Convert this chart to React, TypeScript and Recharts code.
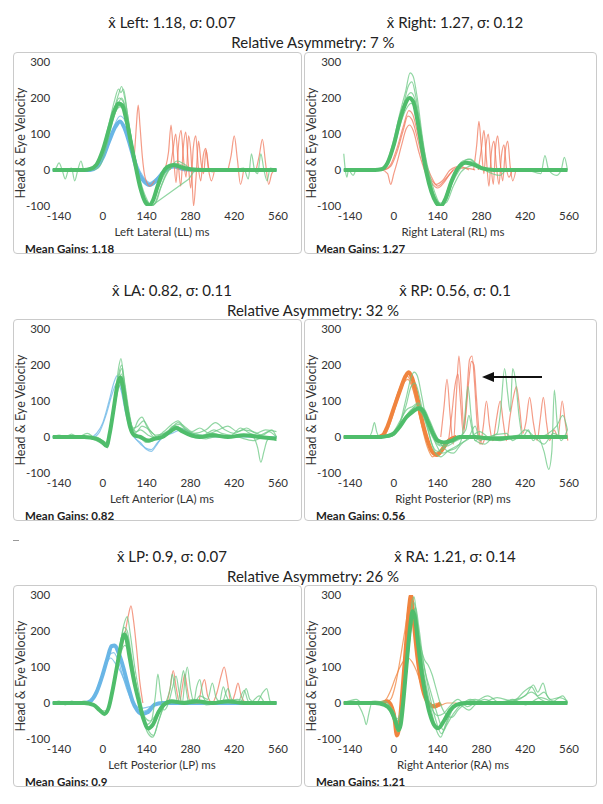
import { LineChart, Line, XAxis, YAxis } from "recharts";

type P = [number, number][];

const xTicks = [-140, 0, 140, 280, 420, 560];
const yTicks = [-100, 0, 100, 200, 300];

// ---- Left Lateral (LL)
const LL_b1: P = [[-160,0],[-40,0],[-20,8],[0,35],[20,80],[40,120],[55,135],[70,115],[90,60],[110,0],[130,-30],[150,-42],[170,-30],[195,-5],[225,10],[260,2],[300,0],[555,0]];
const LL_b2: P = [[-160,0],[-40,0],[-20,5],[0,30],[20,75],[40,130],[55,150],[72,135],[90,80],[110,15],[130,-20],[150,-35],[175,-20],[200,0],[230,8],[270,0],[555,0]];
const LL_r1: P = [[100,30],[107,120],[113,180],[119,120],[126,40],[135,-20],[150,-45],[165,-30]];
const LL_r2: P = [[200,5],[210,50],[218,125],[226,40],[234,-35],[242,70],[250,110],[258,30],[266,-20],[274,95],[282,40],[290,-100],[298,-20],[306,80],[314,20],[322,-10],[330,55],[340,0],[350,-5],[360,0]];
const LL_r3: P = [[215,0],[225,60],[233,100],[241,20],[249,-45],[257,60],[265,105],[273,20],[281,-50],[289,60],[297,95],[305,10],[313,-30],[321,40],[329,60],[337,5],[347,-30],[357,0]];
const LL_r4: P = [[400,0],[410,40],[420,95],[430,30],[440,-40],[450,0]];
const LL_r5: P = [[490,0],[500,40],[510,85],[520,20],[530,-40],[540,-10],[550,0]];
const LL_g0: P = [[-160,0],[-100,0],[-60,0],[-40,3],[-20,15],[0,55],[20,115],[35,160],[50,185],[62,180],[75,140],[90,75],[105,10],[120,-50],[135,-88],[148,-98],[160,-85],[175,-45],[190,-10],[205,8],[225,14],[250,8],[280,2],[320,0],[555,0]];
const LL_g1: P = [[-160,0],[-40,0],[-20,12],[0,60],[20,130],[38,195],[50,225],[58,215],[66,225],[78,160],[92,80],[108,0],[122,-60],[138,-95],[150,-100],[162,-80],[180,-35],[200,0],[220,15],[250,5],[300,0],[555,0]];
const LL_g2: P = [[-160,0],[-30,0],[-10,10],[10,60],[30,130],[48,180],[60,200],[72,175],[88,100],[104,30],[120,-30],[140,-80],[155,-100],[170,-90],[185,-50],[205,-10],[230,12],[260,5],[300,0],[555,0]];
const LL_g3: P = [[-160,0],[-40,0],[-20,10],[0,50],[20,110],[40,165],[55,180],[68,165],[85,95],[100,30],[118,-35],[135,-80],[155,-100],[275,-25],[290,-5],[310,0],[555,0]];
const LL_g4: P = [[-160,0],[-150,5],[-140,20],[-130,0],[-120,-25],[-110,0],[-100,5],[-90,-30],[-80,0],[-70,25],[-60,0],[-40,0],[-20,10],[0,45],[20,105],[40,160],[55,175],[70,160],[88,90],[104,20],[120,-40],[138,-85],[150,-95],[165,-75],[185,-25],[205,5],[230,15],[260,2],[300,0],[555,0]];
const LL_g5: P = [[-160,0],[-40,0],[-20,14],[0,58],[20,120],[38,170],[52,200],[65,190],[80,130],[96,55],[112,-10],[128,-65],[144,-95],[158,-92],[175,-55],[195,-15],[215,10],[240,18],[270,5],[300,0],[420,0],[450,5],[465,-25],[475,45],[485,0],[495,-10],[505,45],[515,0],[525,-30],[535,5],[555,0]];
const LL_g6: P = [[-160,0],[-50,0],[-25,8],[-5,40],[15,100],[35,165],[50,210],[60,232],[70,200],[85,120],[100,40],[116,-25],[132,-75],[148,-100],[164,-95],[182,-55],[200,-15],[218,10],[238,25],[262,15],[290,0],[555,0]];

// ---- Right Lateral (RL)
const RL_o1: P = [[-160,0],[-40,0],[-20,-10],[-10,-40],[0,-10],[10,20],[25,70],[40,115],[50,125],[62,110],[80,50],[100,-5],[120,-35],[140,-50],[160,-35],[180,-10],[200,5],[230,5],[260,0]];
const RL_o2: P = [[-30,0],[-10,10],[10,50],[30,110],[45,150],[58,140],[75,90],[95,20],[115,-20],[135,-40],[155,-30],[180,0],[210,10],[240,0]];
const RL_o3: P = [[-30,0],[-10,15],[10,60],[30,120],[48,165],[60,155],[78,95],[98,30],[118,-15],[140,-45],[165,-25],[190,0]];
const RL_r1: P = [[255,0],[265,70],[272,135],[280,60],[288,-10],[295,70],[302,100],[310,20],[318,-40],[325,60],[332,95],[340,20],[348,-30],[356,50],[364,80],[372,10],[380,-30],[390,0]];
const RL_r2: P = [[270,0],[280,60],[288,110],[296,30],[304,-45],[312,50],[320,80],[328,10],[336,-40],[344,40],[352,70],[360,5],[368,-20],[378,0]];
const RL_g0: P = [[-160,0],[-60,0],[-40,2],[-20,20],[0,70],[20,140],[35,180],[50,200],[62,190],[75,140],[90,60],[105,-10],[120,-60],[135,-90],[150,-100],[165,-80],[185,-30],[205,5],[230,20],[255,15],[280,5],[320,0],[555,0]];
const RL_g1: P = [[-160,0],[-40,0],[-20,25],[0,85],[20,160],[38,220],[52,270],[62,260],[75,200],[90,100],[106,10],[122,-60],[140,-100],[155,-95],[172,-55],[195,-5],[220,25],[245,30],[270,10],[300,0],[555,0]];
const RL_g2: P = [[-160,45],[-155,0],[-150,-20],[-145,0],[-130,-15],[-120,0],[-60,0],[-30,10],[-10,45],[10,110],[30,175],[45,230],[58,245],[70,205],[85,120],[100,30],[118,-40],[135,-85],[152,-100],[168,-80],[190,-25],[215,15],[240,30],[265,15],[300,0],[555,0]];
const RL_g3: P = [[-160,0],[-40,0],[-20,15],[0,60],[20,125],[40,170],[55,185],[68,170],[82,115],[98,40],[115,-25],[130,-70],[148,-92],[165,-85],[185,-40],[210,0],[235,25],[260,20],[290,5],[330,0],[420,0],[470,-10],[483,40],[495,0],[520,-15],[535,0],[545,35],[555,0]];
const RL_g4: P = [[-160,0],[-40,0],[-20,20],[0,75],[20,150],[40,200],[55,215],[68,195],[82,130],[98,50],[115,-15],[132,-65],[150,-95],[168,-90],[190,-45],[215,-5],[240,10],[265,15],[290,0],[340,-15],[360,0],[555,0]];

// ---- Left Anterior (LA)
const LA_b1: P = [[-160,0],[-40,0],[-20,10],[0,40],[20,100],[35,150],[45,170],[55,150],[70,90],[85,30],[100,0],[120,-15],[140,-35],[155,-40],[170,-25],[190,0],[220,10],[250,20],[270,15],[300,5],[555,0]];
const LA_b2: P = [[-160,0],[-30,0],[-10,15],[10,60],[30,120],[45,150],[58,130],[72,70],[90,15],[110,-10],[135,-30],[155,-35],[175,-15],[200,5],[240,25],[265,20],[300,0],[555,0]];
const LA_g0: P = [[-160,0],[-60,0],[-20,-5],[0,-15],[12,-25],[22,10],[35,80],[48,150],[56,165],[64,140],[75,80],[88,25],[100,5],[120,0],[145,-10],[165,-5],[190,0],[215,15],[235,25],[255,15],[280,5],[310,0],[350,5],[400,0],[450,5],[500,0],[555,-5]];
const LA_g1: P = [[-160,0],[-60,0],[-20,-5],[5,-20],[15,-30],[25,20],[40,120],[52,200],[58,218],[66,170],[78,90],[92,30],[108,15],[125,30],[140,25],[160,10],[180,-5],[205,10],[225,30],[245,35],[265,20],[290,10],[320,5],[355,20],[380,10],[410,5],[440,25],[470,10],[500,5],[530,15],[555,0]];
const LA_g2: P = [[-160,0],[-140,5],[-120,0],[-100,8],[-80,0],[-50,10],[-30,0],[0,-20],[12,-25],[25,30],[40,110],[52,170],[60,190],[70,140],[82,70],[96,25],[112,30],[130,45],[150,20],[170,5],[195,10],[220,25],[240,40],[260,30],[285,15],[310,25],[340,10],[370,20],[400,30],[430,15],[460,25],[490,10],[520,20],[555,15]];
const LA_g3: P = [[-160,0],[-60,0],[-10,-15],[10,-25],[25,15],[40,100],[52,160],[60,175],[70,130],[84,60],[100,10],[120,20],[145,5],[175,-5],[200,5],[225,30],[250,25],[280,10],[310,0],[350,10],[400,0],[450,5],[480,0],[495,-30],[505,-70],[515,-40],[525,-10],[540,0],[555,-5]];
const LA_g4: P = [[-160,0],[-60,0],[-10,-10],[10,-20],[25,20],[40,95],[52,140],[62,150],[72,110],[86,50],[100,15],[118,0],[140,-15],[160,-10],[185,5],[210,15],[232,30],[255,20],[285,0],[330,-5],[380,5],[430,0],[480,-10],[520,0],[555,-10]];
const LA_g5: P = [[-160,0],[-100,0],[-20,0],[10,-15],[25,25],[40,110],[52,180],[60,200],[70,150],[84,70],[98,20],[112,45],[125,55],[140,30],[165,0],[195,15],[220,35],[240,45],[262,25],[290,10],[330,20],[360,40],[390,20],[420,10],[450,20],[480,15],[510,5],[540,20],[555,0]];

// ---- Right Posterior (RP)
const RP_o1: P = [[-160,0],[-50,0],[-35,5],[-20,30],[0,80],[20,130],[38,170],[48,180],[58,165],[75,110],[92,40],[108,-10],[122,-40],[138,-50],[155,-35],[175,-10],[200,0]];
const RP_o2: P = [[-40,0],[-25,10],[-5,55],[15,110],[32,150],[45,160],[58,140],[75,85],[92,25],[110,-20],[128,-45],[145,-40],[165,-15],[190,0]];
const RP_o3: P = [[-45,0],[-28,15],[-10,60],[10,115],[28,155],[40,170],[52,160],[70,105],[88,35],[106,-25],[124,-55],[142,-45],[165,-20],[190,0]];
const RP_r1: P = [[150,0],[160,80],[170,160],[180,60],[190,-20],[200,120],[208,225],[216,130],[224,20],[232,100],[242,215],[250,225],[258,150],[266,40],[276,-20],[286,30],[296,100],[306,30],[316,-10],[325,0]];
const RP_r2: P = [[175,-10],[185,60],[195,140],[205,175],[213,100],[222,10],[232,80],[240,160],[248,210],[256,200],[264,110],[272,20],[282,-20],[292,0]];
const RP_r3: P = [[320,0],[330,60],[340,100],[350,40],[360,-10],[372,60],[382,110],[392,140],[402,80],[412,10],[422,40],[434,110],[446,40],[458,-10],[468,50],[478,110],[488,40],[498,-10],[512,20],[525,0],[538,100],[548,40],[556,-10]];
const RP_g0: P = [[-160,0],[-40,0],[-20,3],[0,10],[20,30],[40,55],[60,70],[80,80],[95,70],[110,40],[125,10],[140,-10],[160,-15],[185,-10],[210,0],[260,0],[320,-5],[400,0],[555,0]];
const RP_g1: P = [[-160,0],[-80,0],[-70,15],[-62,40],[-55,15],[-45,0],[-20,0],[0,15],[20,45],[40,75],[60,85],[78,95],[92,75],[108,40],[125,5],[145,-20],[170,-25],[200,-10],[240,0],[555,0]];
const RP_g2: P = [[-160,0],[-20,0],[0,5],[20,40],[40,110],[55,165],[65,180],[75,170],[90,110],[105,40],[120,-15],[140,-40],[160,-30],[185,-10],[210,0],[230,20],[240,60],[250,20],[260,-10],[280,0],[555,0]];
const RP_g3: P = [[-160,0],[-30,0],[0,10],[20,40],[40,90],[55,140],[68,150],[80,120],[95,60],[112,10],[130,-40],[150,-55],[172,-40],[200,-30],[215,-10],[226,50],[237,140],[248,50],[260,-10],[290,-20],[320,0],[555,0]];
const RP_g4: P = [[-160,0],[-20,0],[0,8],[25,40],[50,70],[70,80],[90,65],[110,25],[130,-10],[150,-25],[180,-15],[220,0],[300,0],[330,10],[342,80],[354,190],[364,120],[372,70],[380,190],[390,150],[400,60],[412,0],[430,20],[445,-10],[460,0],[480,-40],[495,-90],[505,-40],[513,130],[522,40],[535,-10],[555,20]];
const RP_g5: P = [[-160,0],[-20,0],[0,5],[25,35],[50,65],[75,90],[95,75],[115,30],[135,-20],[155,-45],[180,-35],[210,-20],[240,0],[260,30],[275,-10],[300,0],[360,10],[380,-10],[420,20],[450,0],[480,-20],[510,10],[540,0],[555,0]];
const RP_g6: P = [[-160,0],[-20,0],[5,10],[30,45],[55,75],[75,85],[95,80],[115,45],[135,5],[160,-30],[190,-45],[215,-20],[240,-5],[275,15],[300,0],[340,-10],[400,5],[460,0],[520,30],[540,60],[555,20]];

// ---- Left Posterior (LP)
const LP_b1: P = [[-160,0],[-60,0],[-40,5],[-20,30],[0,80],[15,125],[28,158],[38,160],[50,140],[65,100],[80,50],[95,5],[110,-20],[125,-30],[145,-25],[165,-5],[190,0],[555,0]];
const LP_b2: P = [[-50,0],[-30,15],[-10,60],[8,105],[22,135],[35,140],[48,120],[62,80],[78,35],[95,0],[115,-25],[140,-20],[165,0]];
const LP_b3: P = [[-45,0],[-25,20],[-5,70],[12,110],[25,125],[40,110],[55,90],[70,60],[85,25],[100,0],[120,-15],[150,-10],[180,0]];
const LP_r1: P = [[60,150],[72,200],[82,245],[90,270],[98,230],[108,150],[118,60],[128,0]];
const LP_r2: P = [[205,0],[215,40],[225,90],[235,40],[245,0],[255,50],[262,80],[270,40],[280,0],[305,0],[315,40],[325,65],[335,20],[350,0],[365,30],[378,75],[388,100],[398,60],[410,0],[422,25],[432,55],[442,20],[455,0]];
const LP_g0: P = [[-160,0],[-60,0],[-30,-5],[-10,-20],[5,-30],[18,-15],[30,30],[45,100],[58,160],[68,190],[75,180],[85,130],[100,60],[115,5],[130,-45],[145,-70],[160,-60],[178,-25],[195,-5],[220,5],[260,0],[300,5],[350,0],[400,5],[450,0],[555,0]];
const LP_g1: P = [[-160,0],[-60,0],[-20,-10],[0,-25],[12,-30],[25,0],[40,80],[55,160],[68,220],[78,240],[88,190],[102,100],[118,20],[132,-40],[148,-80],[162,-90],[178,-50],[195,-10],[215,5],[555,0]];
const LP_g2: P = [[-160,0],[-140,5],[-120,-5],[-100,5],[-80,0],[-60,5],[-30,-5],[-10,-20],[5,-35],[20,-10],[35,50],[50,120],[62,170],[72,200],[82,170],[96,90],[110,20],[125,-30],[140,-60],[155,-50],[168,20],[176,80],[184,30],[195,-20],[210,0],[222,40],[234,75],[244,30],[254,0],[262,60],[270,100],[280,40],[292,0],[310,20],[335,10],[350,55],[362,15],[380,0],[400,40],[412,10],[430,0],[452,35],[465,5],[490,0],[512,30],[524,40],[535,5],[555,0]];
const LP_g3: P = [[-160,0],[-60,0],[-25,-10],[-5,-25],[10,-30],[25,5],[40,70],[55,140],[65,175],[75,185],[86,150],[100,80],[115,10],[130,-50],[145,-85],[160,-95],[175,-60],[190,-20],[205,10],[215,40],[222,80],[230,40],[240,0],[250,55],[258,90],[266,40],[275,0],[290,0],[300,45],[310,65],[320,20],[335,0],[372,0],[385,45],[395,20],[410,0],[440,0],[458,40],[470,10],[490,0],[555,0]];
const LP_g4: P = [[-160,0],[-50,0],[-20,-10],[0,-22],[15,-20],[30,20],[45,90],[58,140],[70,160],[80,150],[92,100],[106,40],[120,-10],[135,-40],[150,-50],[168,-35],[185,-10],[210,5],[240,0],[290,10],[330,-5],[380,0],[430,10],[470,0],[500,20],[520,0],[555,0]];
const LP_g5: P = [[-160,0],[-60,0],[-20,-10],[3,-30],[18,-15],[32,40],[46,110],[58,175],[68,210],[78,200],[90,140],[104,60],[118,0],[132,-55],[148,-75],[165,-45],[180,-20],[195,0],[555,0]];

// ---- Right Anterior (RA)
const RA_o1: P = [[-160,0],[-40,0],[-20,5],[0,-30],[10,-90],[18,-60],[28,40],[38,150],[48,260],[55,300],[62,240],[75,130],[92,40],[110,0],[130,-10],[150,0]];
const RA_o2: P = [[-40,0],[-25,10],[-10,35],[5,70],[20,100],[35,120],[45,125],[58,115],[72,90],[88,50],[104,15],[120,-5],[140,0]];
const RA_o3: P = [[-30,0],[-10,10],[5,50],[20,120],[35,200],[48,270],[56,285],[64,230],[78,130],[95,40],[112,0],[140,-10],[170,0],[200,0]];
const RA_g0: P = [[-160,0],[-60,0],[-30,-5],[-10,-20],[5,-50],[15,-75],[22,-60],[32,20],[42,120],[52,210],[60,255],[68,235],[78,160],[90,80],[102,20],[115,-30],[128,-60],[142,-70],[160,-50],[180,-20],[200,-5],[230,0],[300,0],[400,0],[555,0]];
const RA_g1: P = [[-160,0],[-130,5],[-110,-10],[-95,-40],[-88,-60],[-80,-30],[-70,0],[-40,0],[-20,-10],[0,-40],[12,-80],[20,-70],[30,0],[40,100],[50,200],[58,280],[65,295],[72,250],[82,170],[95,90],[110,20],[125,-40],[138,-80],[150,-95],[165,-60],[185,-20],[210,0],[250,5],[300,0],[555,0]];
const RA_g2: P = [[-160,0],[-60,0],[-20,-10],[0,-30],[10,-50],[20,-40],[32,30],[44,130],[55,210],[63,240],[72,220],[85,160],[98,120],[110,105],[122,80],[135,40],[148,0],[165,-30],[185,-40],[205,-20],[230,0],[260,10],[300,0],[360,5],[420,20],[446,50],[460,30],[477,55],[490,20],[510,5],[555,0]];
const RA_g3: P = [[-160,0],[-120,10],[-100,0],[-60,5],[-30,0],[-10,-25],[5,-60],[18,-80],[28,-30],[38,60],[50,170],[60,240],[70,265],[80,210],[92,130],[106,60],[120,0],[135,-50],[152,-85],[170,-60],[190,-30],[215,-5],[245,10],[280,0],[330,15],[380,5],[420,35],[440,45],[460,20],[480,30],[500,10],[530,15],[555,5]];
const RA_g4: P = [[-160,0],[-60,0],[-20,-5],[0,-25],[15,-55],[25,-40],[36,40],[48,150],[58,230],[66,260],[75,220],[88,140],[102,80],[115,40],[128,0],[142,-40],[158,-75],[172,-50],[190,-15],[210,-5],[240,-20],[260,-5],[290,10],[330,0],[400,10],[440,30],[470,10],[500,0],[540,20],[555,0]];
const RA_g5: P = [[-160,0],[-70,0],[-30,5],[-5,-20],[10,-45],[22,-20],[34,60],[46,170],[56,250],[64,280],[72,245],[84,150],[96,70],[110,10],[124,-20],[140,-35],[158,-30],[178,-10],[205,10],[235,-10],[265,5],[300,20],[340,0],[380,10],[420,-5],[470,15],[520,0],[555,0]];

const FONT = "Lato, 'Open Sans', sans-serif";
const GREEN = "#4fbd6b";
const GREEN_T = "#6cc884";
const RED = "#f07a5e";
const ORANGE = "#f0843f";
const BLUE = "#6ab6e6";

type Tr = { d: P; c: string; w: number; o: number; lin?: boolean };
const thin = (d: P, c = GREEN_T): Tr => ({ d, c, w: 1.2, o: 0.75 });
const thick = (d: P, c = GREEN): Tr => ({ d, c, w: 4, o: 1 });

const panels = [
  { x: 13, y: 52, w: 289, label: "Left Lateral (LL) ms", gain: "1.18",
    traces: [thick(LL_b1, BLUE), thin(LL_b2, BLUE), thin(LL_r1, RED), thin(LL_r2, RED), thin(LL_r3, RED), thin(LL_r4, RED), thin(LL_r5, RED),
      thin(LL_g1), thin(LL_g2), { d: LL_g3, c: GREEN_T, w: 1.2, o: 0.75, lin: true }, thin(LL_g4), thin(LL_g5), thin(LL_g6), thick(LL_g0)] },
  { x: 304, y: 52, w: 293, label: "Right Lateral (RL) ms", gain: "1.27",
    traces: [thin(RL_o1, RED), thin(RL_o2, RED), thin(RL_o3, RED), thin(RL_r1, RED), thin(RL_r2, RED),
      thin(RL_g1), thin(RL_g2), thin(RL_g3), thin(RL_g4), thick(RL_g0)] },
  { x: 13, y: 319, w: 289, label: "Left Anterior (LA) ms", gain: "0.82",
    traces: [thin(LA_b1, BLUE), thin(LA_b2, BLUE), thin(LA_g1), thin(LA_g2), thin(LA_g3), thin(LA_g4), thin(LA_g5), thick(LA_g0)] },
  { x: 304, y: 319, w: 293, label: "Right Posterior (RP) ms", gain: "0.56",
    traces: [thick(RP_o1, ORANGE), thin(RP_o2, ORANGE), thin(RP_o3, ORANGE), thin(RP_r1, RED), thin(RP_r2, RED), thin(RP_r3, RED),
      thin(RP_g1), thin(RP_g2), thin(RP_g3), thin(RP_g4), thin(RP_g5), thin(RP_g6), thick(RP_g0)] },
  { x: 13, y: 585, w: 289, label: "Left Posterior (LP) ms", gain: "0.9",
    traces: [thick(LP_b1, BLUE), thin(LP_b2, BLUE), thin(LP_b3, BLUE), thin(LP_r1, RED), thin(LP_r2, RED),
      thin(LP_g1), thin(LP_g2), thin(LP_g3), thin(LP_g4), thin(LP_g5), thick(LP_g0)] },
  { x: 304, y: 585, w: 293, label: "Right Anterior (RA) ms", gain: "1.21",
    traces: [thick(RA_o1, ORANGE), thin(RA_o2, ORANGE), thin(RA_o3, ORANGE),
      thin(RA_g1), thin(RA_g2), thin(RA_g3), thin(RA_g4), thin(RA_g5), thick(RA_g0)] },
];

const headers = [
  { y: 52, l: "x̂ Left: 1.18, σ: 0.07", r: "x̂ Right: 1.27, σ: 0.12", a: "Relative Asymmetry: 7 %" },
  { y: 320, l: "x̂ LA: 0.82, σ: 0.11", r: "x̂ RP: 0.56, σ: 0.1", a: "Relative Asymmetry: 32 %" },
  { y: 586, l: "x̂ LP: 0.9, σ: 0.07", r: "x̂ RA: 1.21, σ: 0.14", a: "Relative Asymmetry: 26 %" },
];

const tickStyle = { fontSize: 11.5, fill: "#333", fontFamily: FONT };

function Panel({ x, y, w, label, gain, traces }: { x: number; y: number; w: number; label: string; gain: string; traces: Tr[] }) {
  return (
    <div style={{ position: "absolute", left: x, top: y, width: w, height: 202, border: "1px solid #cacaca", borderRadius: 4, boxSizing: "border-box", background: "#fff" }}>
      <div style={{ position: "absolute", left: -1, top: -1 }}>
        <LineChart width={w} height={202} margin={{ top: 10, right: w - 266.6, bottom: 0, left: 0 }}>
          <XAxis dataKey="t" type="number" domain={[-165, 565]} ticks={xTicks} interval={0} allowDataOverflow
            tickLine={false} axisLine={false} tickSize={0} tickMargin={6} height={48} tick={tickStyle} />
          <YAxis type="number" domain={[-100, 300]} ticks={yTicks} interval={0} allowDataOverflow
            tickLine={false} axisLine={false} tickSize={0} tickMargin={1} width={38.2} tick={tickStyle} />
          {traces.map((tr, i) => (
            <Line key={i} data={tr.d.map(([t, v]) => ({ t, v }))} dataKey="v" type={tr.lin ? "linear" : "monotone"}
              stroke={tr.c} strokeWidth={tr.w} strokeOpacity={tr.o} dot={false} activeDot={false} isAnimationActive={false} />
          ))}
        </LineChart>
      </div>
      <div style={{ position: "absolute", left: 7, top: 90, transform: "translate(-50%,-50%) rotate(-90deg)", fontSize: 12.5, lineHeight: 1, color: "#333", whiteSpace: "nowrap", fontFamily: FONT }}>
        Head &amp; Eye Velocity
      </div>
      <div style={{ position: "absolute", left: 148, top: 179, transform: "translate(-50%,-50%)", fontSize: 11.5, lineHeight: 1, color: "#333", whiteSpace: "nowrap", fontFamily: FONT }}>
        {label}
      </div>
      <div style={{ position: "absolute", left: 11, top: 190, fontSize: 11.5, lineHeight: 1, fontWeight: 700, color: "#222", whiteSpace: "nowrap", fontFamily: FONT }}>
        Mean Gains: {gain}
      </div>
    </div>
  );
}

export default function App() {
  return (
    <div style={{ position: "absolute", left: 0, top: 0, width: 603, height: 804, background: "#fff", fontFamily: FONT, overflow: "hidden" }}>
      {headers.map((h, i) => (
        <div key={i}>
          <div style={{ position: "absolute", left: 172, top: h.y - 30, transform: "translate(-50%,-50%)", fontSize: 15, lineHeight: 1, color: "#222", whiteSpace: "nowrap" }}>{h.l}</div>
          <div style={{ position: "absolute", left: 455, top: h.y - 30, transform: "translate(-50%,-50%)", fontSize: 15, lineHeight: 1, color: "#222", whiteSpace: "nowrap" }}>{h.r}</div>
          <div style={{ position: "absolute", left: 313, top: h.y - 10, transform: "translate(-50%,-50%)", fontSize: 15, lineHeight: 1, color: "#222", whiteSpace: "nowrap" }}>{h.a}</div>
        </div>
      ))}
      <div style={{ position: "absolute", left: 13, top: 540, width: 6, height: 1, background: "#999" }} />
      {panels.map((p, i) => <Panel key={i} {...p} />)}
      <svg width={603} height={804} style={{ position: "absolute", left: 0, top: 0, pointerEvents: "none" }}>
        <line x1={542} y1={377} x2={492} y2={377} stroke="#111" strokeWidth={2} />
        <polygon points="482,377 494,372 494,382" fill="#111" />
      </svg>
    </div>
  );
}
